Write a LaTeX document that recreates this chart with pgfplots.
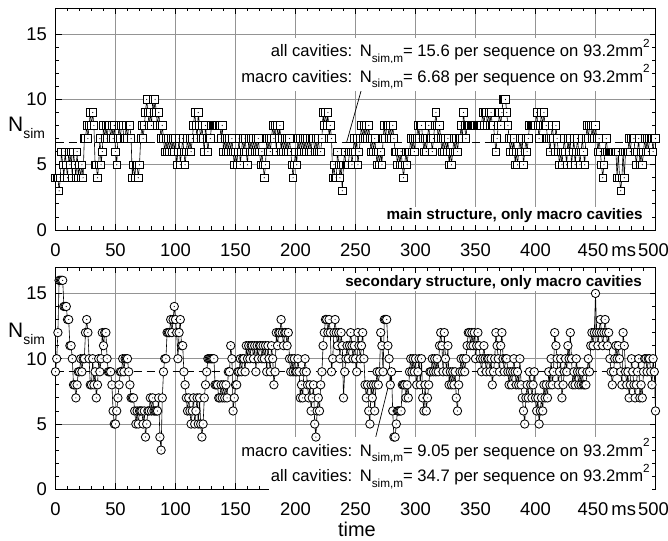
\documentclass[border=0pt]{standalone}
\usepackage{pgfplots}
\pgfplotsset{compat=1.18}
\usepackage{fontspec}
\setmainfont{Liberation Sans}

% open square / open circle with a small dot in the middle
\pgfdeclareplotmark{sqdot}{%
  \pgfpathrectangle{\pgfqpoint{-\pgfplotmarksize}{-\pgfplotmarksize}}{\pgfqpoint{2\pgfplotmarksize}{2\pgfplotmarksize}}%
  \pgfusepathqfillstroke
  \begin{pgfscope}\pgfsetfillcolor{black}\pgfpathcircle{\pgfpointorigin}{0.6pt}\pgfusepathqfill\end{pgfscope}%
}
\pgfdeclareplotmark{cdot}{%
  \pgfpathcircle{\pgfpointorigin}{\pgfplotmarksize}%
  \pgfusepathqfillstroke
  \begin{pgfscope}\pgfsetfillcolor{black}\pgfpathcircle{\pgfpointorigin}{0.6pt}\pgfusepathqfill\end{pgfscope}%
}

\newcommand\sub[1]{\raisebox{-0.33em}{\fontsize{11.8}{11.8}\selectfont #1}}
\newcommand\sups[1]{\raisebox{0.55em}{\fontsize{11.8}{11.8}\selectfont #1}}
\newcommand\annfont{\fontsize{16.7}{16.7}\selectfont}
\newcommand\boldfont{\fontsize{15.3}{15.3}\selectfont\bfseries}

\pgfplotsset{
  panel/.style={
    scale only axis, width=600bp, height=222bp,
    xmin=0, xmax=500, ymin=0, ymax=17,
    xtick={0,50,...,500}, minor x tick num=4,
    ytick={0,5,10,15}, minor y tick num=4,
    xticklabels={0,50,100,150,200,250,300,350,400,{\hspace*{-5pt}450\rlap{\,ms}},{\hspace*{-4pt}500}},
    yticklabels={0,5,10,15},
    grid=major, major grid style={black!42, line width=0.7bp},
    tick align=inside, tick pos=both,
    xticklabel pos=bottom, yticklabel pos=left,
    major tick length=6bp, minor tick length=3.5bp,
    every tick/.style={black, line width=0.8bp},
    axis line style={black, line width=0.9bp},
    tick label style={font=\fontsize{18.5}{18.5}\selectfont},
    xticklabel style={yshift=-10bp},
    yticklabel style={xshift=-5bp},
    clip=false,
  },
  series/.style={black, line width=0.6bp, mark options={solid, fill=white, draw=black, line width=0.85bp}},
  mean/.style={black, line width=1.2bp, dash pattern=on 8bp off 5bp},
}

\begin{document}
\begin{tikzpicture}
\path[use as bounding box] (0,0) rectangle (668bp,541bp);

% main structure
\begin{axis}[panel, at={(55.5bp,311bp)}, anchor=south west]
\addplot[series, mark=sqdot, mark size=3.7bp] coordinates {
(0,4)(1,4)(2,4)(3,3)(4,4)(5,6)(6,5)(7,4)(8,6)(9,5)(10,4)(11,6)(12,5)(13,6)(14,4)(15,6)(16,5)(17,4)(18,6)(19,4)(20,5)(21,4)(22,5)(23,4)
(24,7)(25,7)(26,8)(27,7)(28,8)(29,9)(30,8)(31,9)(32,8)
(33,5)(34,5)(35,4)(36,5)(37,7)(38,5)(39,6)(40,8)(41,7)(42,8)(43,7)
(44,8)(45,8)(46,7)(47,8)(48,7)(49,8)(50,6)(51,5)(52,7)(53,8)(54,7)(55,8)(56,8)(57,7)(58,7)(59,8)(60,7)(61,8)(62,8)(63,7)
(64,4)(65,5)(66,4)(67,5)(68,5)(69,4)(70,5)(71,7)(72,8)(73,7)(74,8)
(75,9)(76,10)(77,9)(78,8)(79,9)(80,8)(81,10)(82,9)(83,10)(84,9)(85,8)(86,9)(87,8)(88,7)(89,8)
(90,7)(91,6)(92,7)(93,6)(94,7)(95,6)(96,7)(97,6)(98,7)(99,6)(100,7)(101,5)(102,6)(103,7)(104,5)(105,6)(106,7)(107,6)(108,5)(109,6)(110,7)(111,6)(112,7)(113,6)(114,7)(115,8)(116,9)(117,8)(118,7)(119,9)(120,8)(121,7)(122,8)(123,7)(124,6)(125,8)(126,7)(127,6)(128,7)(129,7)
(130,8)(131,8)(132,8)(133,8)(134,8)(135,8)(136,8)(137,8)(138,7)(139,8)(140,6)(141,7)(142,6)(143,7)(144,6)(145,7)
(146,6)(147,7)(148,6)(149,5)(150,6)(151,5)(152,6)(153,7)(154,5)(155,6)(156,7)(157,6)(158,7)(159,6)(160,5)(161,7)(162,6)(163,7)(164,6)
(165,7)(166,6)(167,7)(168,6)(169,7)(170,6)(171,5)(172,6)(173,5)(174,4)(175,5)(176,7)(177,6)(178,7)(179,6)(180,7)(181,8)(182,7)(183,8)(184,6)(185,8)(186,7)(187,8)(188,6)(189,7)(190,6)(191,7)(192,6)(193,7)(194,6)(195,7)(196,6)(197,5)(198,4)(199,5)(200,6)(201,5)(202,7)(203,6)(204,7)(205,6)(206,7)(207,6)(208,7)(209,6)(210,7)(211,6)(212,7)(213,6)(214,7)(215,7)(216,6)(217,7)(218,6)(219,7)(220,6)(221,6)(222,7)
(223,9)(224,8)(225,9)(226,8)(227,9)(228,7)(229,8)(230,7)(231,4)(232,5)(233,4)(234,4)(235,6)(236,5)(237,4)(238,5)(239,3)(240,5)(241,6)(242,5)(243,5)(244,5)
(245,6)(246,6)(247,5)(248,6)(249,7)(250,6)(251,7)(252,5)(253,6)(254,7)(255,8)(256,7)(257,8)(258,7)(259,8)(260,7)(261,8)(262,7)(263,6)(264,7)(265,6)(266,7)(267,6)(268,5)(269,6)(270,5)(271,6)(272,5)
(273,7)(274,8)(275,7)(276,8)(277,8)(278,7)(279,8)(280,7)(281,8)(282,7)(283,6)
(284,6)(285,5)(286,6)(287,5)(288,6)(289,5)(290,4)(291,5)(292,6)(293,5)(294,6)(295,6)(296,7)(297,6)(298,7)(299,6)(300,7)
(301,7)(302,8)(303,7)(304,8)(305,8)(306,7)(307,6)(308,7)(309,6)(310,7)(311,8)(312,7)(313,7)(314,6)(315,7)(316,8)(317,9)(318,8)(319,7)(320,8)(321,7)(322,6)(323,7)(324,6)(325,7)(326,6)(327,7)(328,5)(329,6)(330,5)(331,6)(332,7)(333,6)(334,7)(335,6)(336,7)(337,7)(338,8)(339,7)(340,9)(341,8)(342,7)(343,8)(344,8)(345,8)
(346,8)(347,8)(348,8)(349,8)(350,8)(351,8)(352,8)(353,8)(354,8)(355,8)(356,9)(357,8)(358,9)(359,9)(360,8)(361,9)(362,8)(363,9)(364,8)(365,8)(366,7)(367,6)(368,7)(369,8)(370,9)(371,8)(372,9)(373,10)(374,10)(375,10)(376,9)(377,8)(378,7)
(379,6)(380,7)(381,6)(382,7)(383,5)(384,6)(385,5)(386,6)(387,7)(388,6)(389,7)(390,5)(391,6)(392,7)(393,6)(394,7)(395,8)
(396,8)(397,8)(398,8)(399,8)(400,8)(401,9)(402,8)(403,7)(404,8)
(405,9)(406,8)(407,9)(408,8)(409,8)(410,7)(411,7)(412,6)(413,7)(414,8)(415,7)(416,6)(417,8)(418,7)
(419,6)(420,5)(421,6)(422,5)(423,6)(424,7)(425,6)(426,5)(427,7)(428,6)(429,7)(430,5)(431,6)(432,7)(433,5)(434,6)(435,7)(436,6)(437,5)(438,6)(439,7)(440,6)(441,5)
(442,7)(443,8)(444,7)(445,8)(446,8)(447,7)(448,8)(449,7)(450,8)(451,7)(452,6)(453,7)(454,6)(455,5)(456,4)(457,5)(458,6)(459,7)(460,6)
(461,6)(462,6)(463,6)(464,6)(465,6)(466,6)(467,6)(468,4)(469,6)(470,4)(471,3)(472,4)(473,6)(474,4)(475,6)(476,6)(477,6)(478,7)(479,6)
(480,7)(481,7)(482,7)(483,6)(484,5)(485,6)(486,7)(487,5)(488,6)(489,5)(490,6)(491,7)(492,6)(493,7)(494,6)(495,7)(496,7)(497,7)(498,6)(499,7)(500,7)
};
\addplot[mean] coordinates {(0,6.68)(500,6.68)};
\draw[black, line width=0.7bp] (axis cs:256,11.1) -- (axis cs:242.5,6.68);
\node[anchor=base east, fill=white, inner sep=2bp, font=\annfont] at (axis cs:497,13.25)
  {all cavities:\hspace{0.45em}N\sub{sim,m}= 15.6 per sequence on 93.2mm\sups{2}};
\node[anchor=base east, fill=white, inner sep=2bp, font=\annfont] at (axis cs:497,11.33)
  {macro cavities:\hspace{0.45em}N\sub{sim,m}= 6.68 per sequence on 93.2mm\sups{2}};
\node[anchor=base east, fill=white, inner sep=2bp, font=\boldfont] at (axis cs:491,0.77)
  {main structure, only macro cavities};
\end{axis}

% secondary structure
\begin{axis}[panel, at={(55.5bp,51.7bp)}, anchor=south west]
\addplot[series, mark=cdot, mark size=4.2bp] coordinates {
(0,9)(1,10)(2,12)(3,16)(4,16)(5,16)(6,16)(7,14)(8,14)(9,14)(10,13)(11,13)(12,11)(13,11)(14,10)(15,8)(16,8)(17,7)(18,8)(19,9)
(20,9)(21,10)(22,9)(23,10)(24,10)(25,12)(26,13)(27,12)(28,10)(29,8)(30,8)(31,10)(32,8)(33,9)(34,7)(35,8)(36,10)(37,9)(38,10)(39,12)(40,11)(41,12)(42,12)(43,10)(44,9)(45,9)(46,9)
(47,8)(48,6)(49,5)(50,5)(51,6)(52,7)(53,8)(54,9)(55,9)(56,10)(57,9)(58,10)(59,10)(60,10)(61,9)(62,8)(63,7)(64,7)
(65,7)(66,6)(67,5)(68,6)(69,5)(70,6)(71,6)(72,6)(73,5)(74,6)(75,4)(76,5)(77,6)(78,6)(79,7)(80,6)(81,7)(82,6)(83,6)(84,6)(85,6)(86,7)(87,4)(88,3)(89,7)(90,9)(91,10)(92,10)
(93,12)(94,12)(95,12)(96,13)(97,12)(98,13)(99,14)(100,13)(101,12)(102,10)(103,12)(104,13)(105,11)(106,11)(107,9)(108,8)
(109,7)(110,6)(111,7)(112,6)(113,5)(114,6)(115,7)(116,5)(117,6)(118,7)(119,5)(120,7)(121,5)(122,4)(123,5)(124,7)(125,8)(126,9)
(127,10)(128,10)(129,10)(130,10)(131,10)(132,10)(133,8)(134,8)(135,8)(136,7)(137,7)(138,8)(139,7)(140,8)(141,7)(142,8)(143,7)(144,9)(145,9)
(146,11)(147,10)(148,6)(149,7)(150,8)(151,8)(152,9)(153,9)
(154,10)(155,9)(156,10)(157,10)(158,9)(159,11)(160,10)(161,11)(162,10)(163,11)(164,11)(165,10)(166,11)(167,9)(168,11)(169,10)(170,11)(171,11)(172,10)(173,11)(174,10)(175,11)(176,9)(177,11)(178,10)(179,9)(180,11)(181,10)(182,8)(183,9)
(184,12)(185,11)(186,12)(187,12)(188,13)(189,12)(190,11)(191,12)(192,12)(193,11)(194,12)(195,10)(196,9)(197,10)(198,9)(199,10)
(200,9)(201,9)(202,10)(203,9)(204,7)(205,8)(206,7)(207,9)(208,10)(209,9)(210,8)(211,7)(212,8)(213,6)(214,7)(215,8)(216,5)(217,4)(218,6)(219,7)(220,6)(221,8)(222,9)
(223,11)(224,12)(225,13)(226,13)(227,12)(228,13)(229,12)(230,9)(231,10)(232,12)(233,13)(234,12)(235,11)(236,12)(237,10)(238,12)(239,11)(240,7)(241,9)(242,10)(243,11)(244,10)(245,11)(246,12)(247,11)(248,10)(249,11)(250,10)(251,9)(252,12)(253,11)(254,10)(255,11)(256,12)(257,10)
(258,8)(259,7)(260,8)(261,6)(262,5)(263,8)(264,7)(265,8)(266,6)(267,8)(268,9)(269,8)(270,9)(271,12)(272,11)(273,9)(274,13)(275,13)(276,13)(277,11)(278,10)(279,8)(280,9)(281,6)(282,4)(283,4)(284,5)(285,6)(286,6)(287,6)(288,6)(289,8)
(290,8)(291,8)(292,7)(293,8)(294,7)(295,9)(296,10)(297,9)(298,10)(299,9)(300,10)(301,8)(302,9)(303,10)(304,8)(305,10)(306,7)(307,6)(308,8)(309,6)(310,7)(311,8)(312,9)
(313,9)(314,10)(315,9)(316,10)(317,9)(318,10)(319,9)(320,11)(321,12)(322,11)(323,9)(324,12)(325,10)(326,9)(327,11)(328,8)(329,9)(330,8)(331,9)(332,8)(333,9)(334,7)(335,6)(336,8)(337,9)(338,10)(339,9)(340,10)
(341,9)(342,10)(343,11)(344,12)(345,12)(346,11)(347,12)(348,11)(349,12)(350,10)(351,11)(352,12)(353,11)(354,10)(355,9)(356,10)(357,11)(358,10)(359,9)(360,10)(361,10)(362,9)(363,10)(364,8)(365,9)(366,10)(367,12)(368,11)(369,10)(370,9)(371,11)(372,12)(373,10)(374,9)(375,10)
(376,10)(377,9)(378,8)(379,9)(380,8)(381,9)(382,10)(383,9)(384,8)(385,9)(386,8)(387,10)(388,8)(389,7)(390,6)(391,5)(392,7)(393,8)(394,7)(395,9)(396,8)(397,7)(398,8)(399,9)(400,7)(401,6)(402,7)(403,5)(404,6)(405,7)(406,6)(407,8)(408,7)(409,8)(410,7)(411,9)(412,8)(413,10)(414,8)(415,9)
(416,12)(417,11)(418,10)(419,8)(420,9)(421,10)(422,7)(423,8)(424,9)(425,10)(426,9)(427,11)(428,10)(429,12)(430,10)(431,8)(432,9)(433,8)(434,10)(435,9)(436,8)(437,9)(438,8)(439,9)(440,8)(441,8)(442,8)(443,9)(444,10)(445,9)
(446,11)(447,12)(448,11)(449,12)(450,15)(451,12)(452,11)(453,12)(454,13)(455,12)(456,11)(457,12)(458,13)(459,12)(460,11)(461,12)(462,10)(463,9)(464,8)(465,9)(466,10)(467,11)(468,10)(469,11)(470,10)(471,9)(472,8)(473,12)(474,11)(475,9)
(476,8)(477,9)(478,7)(479,8)(480,10)(481,9)(482,8)(483,7)(484,8)(485,9)(486,10)(487,7)(488,8)(489,7)(490,9)(491,10)(492,10)(493,9)(494,10)(495,10)(496,9)(497,8)(498,10)(499,9)(500,6)
};
\addplot[mean] coordinates {(0,9.05)(500,9.05)};
\draw[black, line width=0.7bp] (axis cs:265.5,3.5) -- (axis cs:280.5,9.05);
\node[anchor=base east, fill=white, inner sep=2bp, font=\boldfont] at (axis cs:490.4,15.56)
  {secondary structure, only macro cavities};
\node[anchor=base east, fill=white, inner sep=2bp, font=\annfont] at (axis cs:497,2.54)
  {macro cavities:\hspace{0.45em}N\sub{sim,m}= 9.05 per sequence on 93.2mm\sups{2}};
\node[anchor=base east, fill=white, inner sep=2bp, font=\annfont] at (axis cs:497,0.56)
  {all cavities:\hspace{0.45em}N\sub{sim,m}= 34.7 per sequence on 93.2mm\sups{2}};
\end{axis}

% y labels and x label
\node[anchor=base west, inner sep=0pt] at (8bp,409bp)
  {\fontsize{21}{21}\selectfont N\raisebox{-0.33em}{\fontsize{14}{14}\selectfont sim}};
\node[anchor=base west, inner sep=0pt] at (8bp,203bp)
  {\fontsize{21}{21}\selectfont N\raisebox{-0.33em}{\fontsize{14}{14}\selectfont sim}};
\node[anchor=base, inner sep=0pt] at (357bp,5bp) {\fontsize{20}{20}\selectfont time};
\end{tikzpicture}
\end{document}
